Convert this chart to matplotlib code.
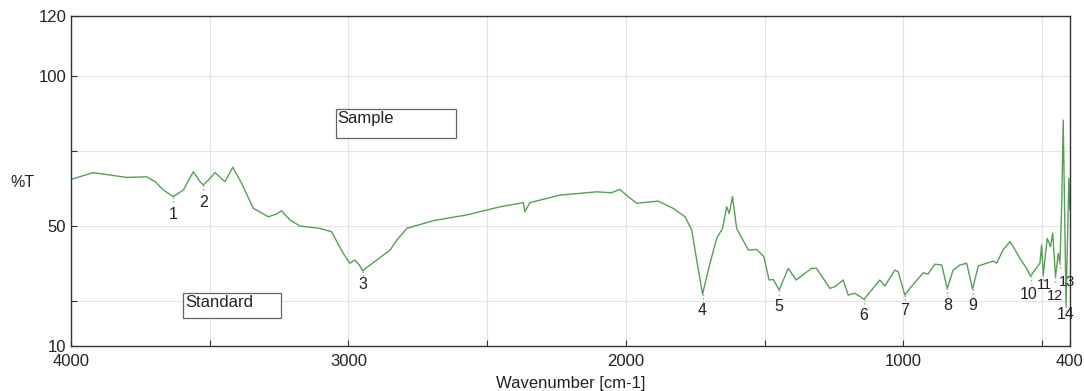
import numpy as np
import matplotlib.pyplot as plt
from matplotlib.patches import Rectangle

# FTIR spectrum (wavenumber cm-1, %T)
wavenumber = [3998, 3920, 3860, 3799, 3727, 3697, 3667, 3631, 3595, 3559, 3535, 3523, 3505, 3481, 3445,
              3417, 3385, 3343, 3289, 3259, 3241, 3211, 3175, 3103, 3061, 3019, 2995, 2977, 2961, 2949,
              2922, 2850, 2826, 2790, 2694, 2574, 2454, 2370, 2364, 2346, 2238, 2190, 2106, 2052, 2022,
              1992, 1961, 1884, 1830, 1787, 1763, 1745, 1724, 1697, 1673, 1652, 1637, 1628, 1616, 1601,
              1559, 1529, 1503, 1484, 1469, 1448, 1415, 1387, 1331, 1313, 1265, 1247, 1217, 1199, 1175,
              1142, 1085, 1067, 1031, 1019, 995, 977, 929, 911, 887, 862, 842, 821, 796, 772,
              751, 730, 700, 676, 664, 640, 616, 604, 580, 556, 542, 526, 508, 502, 496,
              482, 470, 462, 452, 442, 436, 430, 424, 414, 404, 400]
transmittance = [65.6, 67.8, 67.0, 66.2, 66.4, 64.8, 62.0, 59.8, 62.0, 68.1, 64.8, 63.7, 65.3, 67.8, 64.8,
                 69.6, 64.2, 55.9, 53.1, 54.0, 55.1, 52.0, 50.0, 49.2, 48.1, 40.9, 37.6, 38.7, 37.0, 35.1,
                 37.0, 42.0, 45.3, 49.2, 51.8, 53.7, 56.4, 57.8, 54.8, 57.8, 60.3, 60.7, 61.4, 61.1, 62.2,
                 59.8, 57.6, 58.3, 55.9, 53.1, 48.7, 38.7, 27.3, 37.6, 45.9, 49.2, 56.4, 54.2, 59.8, 49.2,
                 42.0, 42.2, 39.8, 32.0, 32.2, 28.7, 35.9, 32.0, 35.9, 35.9, 29.2, 29.8, 32.0, 27.0, 27.6,
                 25.6, 32.0, 30.0, 35.3, 34.8, 27.0, 29.2, 34.4, 34.0, 37.3, 37.0, 29.2, 35.3, 37.0, 37.6,
                 29.0, 36.7, 37.6, 38.3, 37.6, 42.2, 44.8, 43.1, 39.2, 35.9, 33.3, 35.3, 37.6, 43.7, 33.7,
                 45.9, 43.1, 47.6, 33.1, 40.9, 37.7, 55.3, 85.3, 23.3, 65.9, 55.3]

# labelled minima
peak_wn = [3631, 3523, 2949, 1724, 1448, 1142, 995, 842, 751, 542, 496, 452, 436, 414]
peak_t = [59.8, 63.7, 35.1, 27.3, 28.7, 25.6, 27.0, 29.2, 29.0, 33.3, 33.7, 33.1, 37.7, 23.3]
peak_labels = [str(i) for i in range(1, 15)]
label_off = [(0, -13), (0, -13), (0, -10), (0, -12), (0, -12), (0, -12), (0, -11), (0, -12), (0, -12),
             (-1, -13), (1, -7), (0, -14), (5, -14), (0, -6)]

xticks = [4000, 3500, 3000, 2500, 2000, 1500, 1000, 500, 400]
xticklabels = ['4000', '', '3000', '', '2000', '', '1000', '', '400']
yticks = [10, 25, 50, 75, 100, 120]
yticklabels = ['10', '', '50', '', '100', '120']

plt.rcParams['font.family'] = ['Liberation Sans', 'DejaVu Sans']
fig = plt.figure(figsize=(10.84, 3.91), dpi=100)
ax = fig.add_axes([0.0655, 0.115, 0.9215, 0.844])

ax.plot(wavenumber, transmittance, color='#55a055', linewidth=1.0)

for i, (wn, t, lab, off) in enumerate(zip(peak_wn, peak_t, peak_labels, label_off)):
    ax.plot([wn, wn], [t, t - 2.5], color='#999999', linewidth=1.0, linestyle=':')
    fs = 10.5 if i in (10, 11, 12) else 11.5
    ax.annotate(lab, (wn, t), xytext=off, textcoords='offset points',
                ha='center', va='center', fontsize=fs, color='#222222')

ax.set_xlim(4000, 400)
ax.set_ylim(10, 120)
ax.set_xticks(xticks)
ax.set_xticklabels(xticklabels)
ax.set_yticks(yticks)
ax.set_yticklabels(yticklabels)
ax.grid(True, color='#e3e3e3', linewidth=0.8)
ax.tick_params('both', direction='in', length=4, labelsize=12, color='#333333', labelcolor='#222222')
ax.tick_params('x', pad=6)
for s in ax.spines.values():
    s.set_color('#333333')
    s.set_linewidth(1.0)

ax.set_xlabel('Wavenumber [cm-1]', fontsize=12, color='#222222')
ax.xaxis.set_label_coords(0.5, -0.09)
ax.set_ylabel('%T', fontsize=11.5, rotation=0, color='#222222')
ax.yaxis.set_label_coords(-0.049, 0.473)

# text boxes
for x0, y0, w, h, txt in [(0.265, 0.630, 0.120, 0.088, 'Sample'),
                          (0.112, 0.085, 0.098, 0.076, 'Standard')]:
    ax.add_patch(Rectangle((x0, y0), w, h, transform=ax.transAxes, facecolor='white',
                           edgecolor='#666666', linewidth=0.9, zorder=5))
    ax.text(x0 + 0.002, y0 + h - 0.006, txt, transform=ax.transAxes, ha='left', va='top',
            fontsize=12, color='#222222', zorder=6)

plt.savefig('out.png', dpi=100)
